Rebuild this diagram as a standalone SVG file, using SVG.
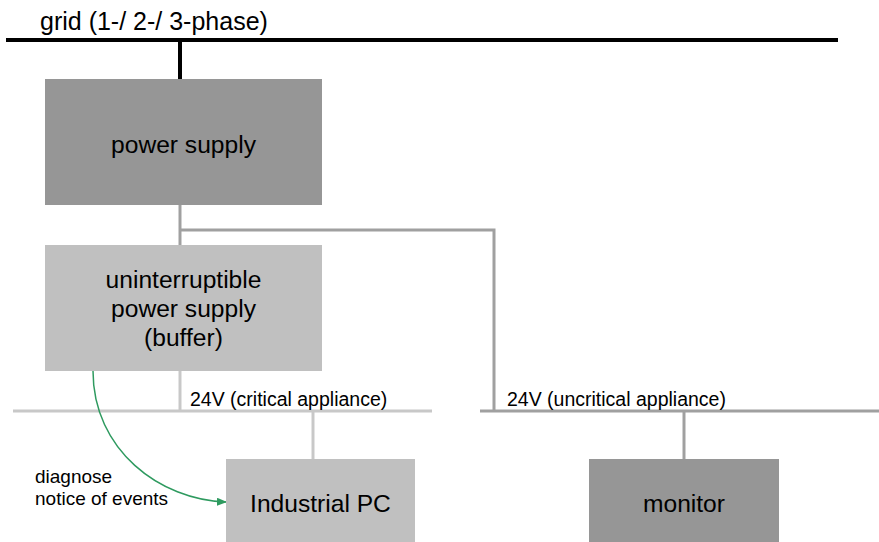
<svg xmlns="http://www.w3.org/2000/svg" width="879" height="542" viewBox="0 0 879 542">
<style>
text{font-family:"Liberation Sans",Arial,sans-serif;fill:#000}
.big{font-size:24.6px;text-anchor:middle}
.lbl{font-size:19.5px}
.small{font-size:19px}
.dark{fill:#969696}
.light{fill:#c0c0c0}
.blk{stroke:#000;stroke-width:4;fill:none}
.g1{stroke:#a0a0a0;stroke-width:3;fill:none}
.g2{stroke:#c8c8c8;stroke-width:3;fill:none}
.arr{stroke:#2e9a5f;stroke-width:1.5;fill:none}
</style>
<defs>
<marker id="ah" markerWidth="10" markerHeight="8" refX="9" refY="4" orient="auto" markerUnits="userSpaceOnUse">
<path d="M0,0 L10,4 L0,8 Z" fill="#2e9a5f"/>
</marker>
</defs>
<g id="connectors">
<path class="blk" d="M6,40 H838"/>
<path class="blk" d="M180,40 V79"/>
<path class="g1" d="M180,205 V245"/>
<path class="g1" d="M180,230 H494 V411"/>
<path class="g1" d="M480,411 H879"/>
<path class="g1" d="M684,411 V459"/>
<path class="g2" d="M180,371 V411"/>
<path class="g2" d="M13,411 H432"/>
<path class="g2" d="M313,411 V459"/>
<path class="arr" d="M93,371 C93,450 160,500 226,502" marker-end="url(#ah)"/>
</g>
<g id="grid-label"><text x="40" y="30" style="font-size:25px">grid (1-/ 2-/ 3-phase)</text></g>
<g id="power-supply">
<rect class="dark" x="45" y="79" width="277" height="126"/>
<text class="big" x="183.5" y="153">power supply</text>
</g>
<g id="ups">
<rect class="light" x="45" y="245" width="277" height="126"/>
<text class="big" x="183.5" y="288">uninterruptible</text>
<text class="big" x="183.5" y="317">power supply</text>
<text class="big" x="183.5" y="346">(buffer)</text>
</g>
<g id="critical-label"><text class="lbl" x="190" y="405.5">24V (critical appliance)</text></g>
<g id="uncritical-label"><text class="lbl" x="507" y="405.5">24V (uncritical appliance)</text></g>
<g id="diagnose-label">
<text class="small" x="35" y="482.5">diagnose</text>
<text class="small" x="35" y="505">notice of events</text>
</g>
<g id="industrial-pc">
<rect class="light" x="226" y="459" width="189" height="83"/>
<text class="big" x="320.5" y="512">Industrial PC</text>
</g>
<g id="monitor">
<rect class="dark" x="589" y="459" width="190" height="83"/>
<text class="big" x="684" y="512">monitor</text>
</g>
</svg>
